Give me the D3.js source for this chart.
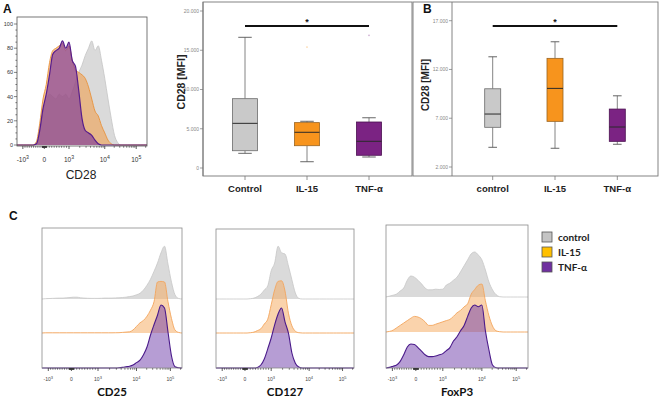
<!DOCTYPE html>
<html><head><meta charset="utf-8">
<script src="https://cdn.jsdelivr.net/npm/d3@7/dist/d3.min.js"></script>
<style>body{margin:0;background:#fff}svg{display:block}</style>
</head><body>
<svg id="fig" width="661" height="402"></svg>
<script>
// ---------------- DATA ----------------
// Box plots, panel A (CD28 MFI)
const boxA_categories = ["Control", "IL-15", "TNF-α"];
const boxA_low    = [1870, 800, 1400];
const boxA_q1     = [2200, 2840, 1620];
const boxA_median = [5690, 4550, 3400];
const boxA_q3     = [8830, 5780, 5860];
const boxA_high   = [16650, 5950, 6400];
const boxA_outlier = [null, 15400, 16900];
const boxA_ticks  = [0, 5000, 10000, 15000, 20000];

// Box plots, panel B
const boxB_categories = ["control", "IL-15", "TNF-α"];
const boxB_low    = [4020, 3920, 4330];
const boxB_q1     = [6070, 6680, 4630];
const boxB_median = [7430, 10060, 6100];
const boxB_q3     = [10020, 13140, 7940];
const boxB_high   = [13300, 14840, 9300];
const boxB_ticks  = [2000, 7000, 12000, 17000];

// Flow histograms: values on a display-channel grid (0..1, 41 bins)
const histChannels = d3.range(41).map(i => i * 0.025);
const histTickChannels = [0.045, 0.21, 0.40, 0.675, 0.917];
const histTickBase = ["-10", "0", "10", "10", "10"];
const histTickExp  = ["3", "", "3", "4", "5"];
const histA_yTicks = [0, 20, 40, 60, 80, 100];

// Panel A histogram (CD28, % of max)
const cd28_control = [0,0,0,0,0,0,2,15,28,36,42,40,38,42,40,42,38,44,52,60,66,74,80,86,78,82,70,55,38,22,8,2,0,0,0,0,0,0,0,0,0];
const cd28_il15    = [0,0,0,0,0,0,3,18,38,50,68,78,80,82,84,78,82,70,62,60,58,55,48,38,28,24,16,10,4,1,0,0,0,0,0,0,0,0,0,0,0];
const cd28_tnf     = [0,0,0,0,0,0,1,12,30,42,58,75,78,80,86,80,85,70,65,45,22,12,10,8,4,1,0,0,0,0,0,0,0,0,0,0,0,0,0,0,0];

// Panel C histograms
const cd25_control = [0,0.5,0.8,1,1.3,1.5,1.5,2,2.5,3,3,2,1.5,1.2,1,1,1,1.2,1.5,1.5,1.5,1.8,2,2.5,3,4,5,7,9.5,15,23,33,46,60,77,88,58,28,7,1,0];
const cd25_il15    = [0,0.3,0.3,0.3,0.3,0.3,0.3,0.3,0.3,0.3,0.3,0.3,0.3,0.3,0.3,0.3,0.3,0.3,0.3,0.3,0.3,0.4,0.5,1,1.5,2,5,11,17,21,28,38,52,85,86,85,52,24,5,1,0];
const cd25_tnf     = [0,0,0,0,0,0,0,0,0,0,0,0,0,0,0,0,0,0,0,0,0,0,0.3,1,2,3,5,9,13,22,35,55,72,88,105,100,60,20,2,0.3,0];

const cd127_control = [0,0,0,0,0,0,0,0,0,0,0.5,1.5,4,8,15,22,47,60,88,77,75,55,32,10,1,0,0,0,0,0,0,0,0,0,0,0,0,0,0,0,0];
const cd127_il15    = [0,0,0,0,0,0,0,0,0,0,0.5,1.5,4,7,15,23,47,72,86,87,70,33,12,3,0.5,0,0,0,0,0,0,0,0,0,0,0,0,0,0,0,0];
const cd127_tnf     = [0,0,0,0,0,0,0,0,0,0,0,0,1,5,15,32,50,72,90,100,77,58,25,8,1.5,0,0,0,0,0,0,0,0,0,0,0,0,0,0,0,0];

const foxp3_control = [0,1.5,3,5,10,15,28,35,33,28,22,15,12,12,13,12.5,13,20,23,28,33,42,52,62,72,75,70,62,45,25,12,4,0.5,0,0,0,0,0,0,0,0];
const foxp3_il15    = [0,1,3,7,11,15,19,23,26,25,22,17,11,11,13,15,17,19,21,26,32,36,42,47,63,71,78,80,52,27,10,2,0.5,0,0,0,0,0,0,0,0];
const foxp3_tnf     = [0,1,3,5,11,22,35,40,39,34,28,22,19,19,20,22,24,29,34,45,52,62,71,86,100,105,102,105,62,30,5,0.5,0,0,0,0,0,0,0,0,0];

const legendLabels = ["control", "IL-15", "TNF-α"];
const legendColors = ["#c4c4c4", "#ffc000", "#7030a0"];

// ---------------- DRAW ----------------
const svg = d3.select("#fig");
const SANS = "'Liberation Sans', Arial, sans-serif";
const CAL = "Lato, 'Open Sans', sans-serif";

[["A",3,13],["B",423,13],["C",9,220]].forEach(([t,x,y]) =>
  svg.append("text").attr("x",x).attr("y",y).attr("font-family",SANS)
     .attr("font-weight","bold").attr("font-size",12).attr("fill","#111").text(t));

const T = histTickChannels;
function chan(v){
  if (v >= 1000){ const k = Math.log10(v); return k <= 4 ? T[2]+(T[3]-T[2])*(k-3) : T[3]+(T[4]-T[3])*(k-4); }
  if (v >= 0) return T[1] + (T[2]-T[1]) * v/1000;
  return T[1] + (T[1]-T[0]) * v/1000;
}
const minorVals = [...d3.range(-900,0,100), ...d3.range(-90,0,10), ...d3.range(10,100,10),
                   ...d3.range(100,1000,100), ...d3.range(2000,10000,1000), ...d3.range(20000,100000,10000), 200000];

function histXAxis(g, x, yb, labelY, fs, col){
  g.selectAll("line.mi").data(minorVals).join("line")
    .attr("x1", d=>x(chan(d))).attr("x2", d=>x(chan(d))).attr("y1", yb).attr("y2", yb+1.8)
    .attr("stroke", "#333").attr("stroke-width", 0.6);
  g.selectAll("line.ma").data(histTickChannels).join("line")
    .attr("x1", d=>x(d)).attr("x2", d=>x(d)).attr("y1", yb).attr("y2", yb+3)
    .attr("stroke", "#333").attr("stroke-width", 0.8);
  g.selectAll("text.tk").data(histTickChannels).join("text")
    .attr("x", d=>x(d)).attr("y", labelY).attr("text-anchor","middle")
    .attr("font-family", SANS).attr("font-size", fs).attr("fill", col)
    .each(function(d,i){
      const t = d3.select(this);
      t.append("tspan").text(histTickBase[i]);
      if (histTickExp[i]) t.append("tspan").attr("dy", -fs*0.45).attr("font-size", fs*0.8).text(histTickExp[i]);
    });
}

// ---- Panel A histogram ----
(function(){
  const g = svg.append("g");
  const x0=17, x1=147, yTop=17, yBot=146;
  const x = d3.scaleLinear().domain([0,1]).range([x0,x1]);
  const y = d3.scaleLinear().domain([0,100]).range([145,24]);
  const series = [
    {v: cd28_control, fill:"rgba(205,205,205,0.75)", stroke:"#c4c4c4", sw:0.8},
    {v: cd28_il15,    fill:"rgba(240,160,80,0.6)",   stroke:"#e8913a", sw:0.9},
    {v: cd28_tnf,     fill:"rgba(120,50,155,0.62)",  stroke:"#561c8c", sw:1.2}
  ];
  series.forEach(s => {
    g.append("path").datum(s.v)
      .attr("d", d3.area().x((d,i)=>x(histChannels[i])).y0(y(0)).y1(d=>y(d)).curve(d3.curveMonotoneX))
      .attr("fill", s.fill);
    g.append("path").datum(s.v)
      .attr("d", d3.line().x((d,i)=>x(histChannels[i])).y(d=>y(d)).curve(d3.curveMonotoneX))
      .attr("fill","none").attr("stroke", s.stroke).attr("stroke-width", s.sw);
  });
  g.append("rect").attr("x",x0).attr("y",yTop).attr("width",x1-x0).attr("height",yBot-yTop)
    .attr("fill","none").attr("stroke","#555").attr("stroke-width",0.8);
  g.selectAll("line.ym").data(d3.range(0,101,5)).join("line")
    .attr("x1",x0).attr("x2", d=> d%20===0 ? x0-3 : x0-1.6).attr("y1",d=>y(d)).attr("y2",d=>y(d))
    .attr("stroke","#333").attr("stroke-width",0.6);
  g.selectAll("text.yl").data(histA_yTicks).join("text")
    .attr("x", x0-4).attr("y", d=>y(d)+2).attr("text-anchor","end")
    .attr("font-family",SANS).attr("font-size",5.5).attr("fill","#333").text(d=>d);
  histXAxis(g, x, yBot, 162, 6.5, "#333");
  g.append("text").attr("x",81).attr("y",179).attr("text-anchor","middle")
    .attr("font-family",SANS).attr("font-size",12).attr("fill","#222").text("CD28");
})();

// ---- Box plots ----
const fmt = d3.formatLocale({decimal:",", thousands:".", grouping:[3], currency:["",""]}).format(",");
const boxFill   = ["#c9c9c9", "#f7941d", "#7b2383"];
const boxStroke = ["#6b6b6b", "#9a6420", "#4a1050"];

function drawBoxes(cfg){
  const g = svg.append("g");
  const x = d3.scalePoint().domain(cfg.cats).range(cfg.xr);
  const y = d3.scaleLinear().domain(cfg.yd).range(cfg.yr);
  const w = cfg.bw;
  g.append("rect").attr("x",cfg.frame[0]).attr("y",cfg.frame[1])
    .attr("width",cfg.frame[2]-cfg.frame[0]).attr("height",cfg.frame[3]-cfg.frame[1])
    .attr("fill","none").attr("stroke","#777").attr("stroke-width",0.9);
  g.append("line").attr("x1",cfg.axisX).attr("x2",cfg.axisX).attr("y1",cfg.frame[1]).attr("y2",cfg.frame[3])
    .attr("stroke","#777").attr("stroke-width",0.9);
  g.selectAll("line.yt").data(cfg.ticks).join("line")
    .attr("x1",cfg.axisX-3).attr("x2",cfg.axisX).attr("y1",d=>y(d)).attr("y2",d=>y(d))
    .attr("stroke","#777").attr("stroke-width",0.7);
  g.selectAll("text.yt").data(cfg.ticks).join("text")
    .attr("x",cfg.axisX-4).attr("y",d=>y(d)+1.8).attr("text-anchor","end")
    .attr("font-family",SANS).attr("font-size",5).attr("fill","#888").text(d=>fmt(d));
  g.selectAll("line.xt").data(cfg.cats).join("line")
    .attr("x1",d=>x(d)).attr("x2",d=>x(d)).attr("y1",cfg.frame[3]).attr("y2",cfg.frame[3]+4)
    .attr("stroke","#777").attr("stroke-width",0.8);
  g.selectAll("text.xl").data(cfg.cats).join("text")
    .attr("x",d=>x(d)).attr("y",cfg.frame[3]+16).attr("text-anchor","middle")
    .attr("font-family",SANS).attr("font-weight","bold").attr("font-size",9.5).attr("fill","#222").text(d=>d);
  g.append("text").attr("transform",`translate(${cfg.ylabX},${cfg.ylabY}) rotate(-90)`)
    .attr("text-anchor","middle").attr("font-family",SANS).attr("font-weight","bold")
    .attr("font-size",cfg.ylabSize).attr("fill","#222").text("CD28 [MFI]");
  cfg.cats.forEach((c,i) => {
    const cx = x(c);
    g.append("line").attr("x1",cx).attr("x2",cx).attr("y1",y(cfg.high[i])).attr("y2",y(cfg.q3[i]))
      .attr("stroke","#777").attr("stroke-width",0.9);
    g.append("line").attr("x1",cx).attr("x2",cx).attr("y1",y(cfg.q1[i])).attr("y2",y(cfg.low[i]))
      .attr("stroke","#777").attr("stroke-width",0.9);
    [cfg.high[i], cfg.low[i]].forEach(v =>
      g.append("line").attr("x1",cx-w*0.27).attr("x2",cx+w*0.27).attr("y1",y(v)).attr("y2",y(v))
        .attr("stroke","#555").attr("stroke-width",0.9));
    g.append("rect").attr("x",cx-w/2).attr("y",y(cfg.q3[i])).attr("width",w)
      .attr("height",y(cfg.q1[i])-y(cfg.q3[i])).attr("fill",boxFill[i]).attr("stroke",boxStroke[i]).attr("stroke-width",0.8);
    g.append("line").attr("x1",cx-w/2).attr("x2",cx+w/2).attr("y1",y(cfg.median[i])).attr("y2",y(cfg.median[i]))
      .attr("stroke","#2a2a2a").attr("stroke-width",1);
    if (cfg.outlier && cfg.outlier[i] != null)
      g.append("circle").attr("cx",cx).attr("cy",y(cfg.outlier[i])).attr("r",0.9)
        .attr("fill",boxFill[i]).attr("opacity",0.35);
  });
  const c0 = x(cfg.cats[0]), c2 = x(cfg.cats[2]);
  g.append("line").attr("x1",c0).attr("x2",c2).attr("y1",26).attr("y2",26).attr("stroke","#111").attr("stroke-width",1.8);
  g.append("text").attr("x",(c0+c2)/2).attr("y",24.5).attr("text-anchor","middle")
    .attr("font-family",SANS).attr("font-weight","bold").attr("font-size",9).attr("fill","#111").text("*");
}

drawBoxes({cats: boxA_categories, xr:[245,369], yd:[0,20000], yr:[168,11], bw:25,
  frame:[203,2,412,176], axisX:203, ticks: boxA_ticks, ylabX:185, ylabY:82, ylabSize:10.5,
  low:boxA_low, q1:boxA_q1, median:boxA_median, q3:boxA_q3, high:boxA_high, outlier:boxA_outlier});
drawBoxes({cats: boxB_categories, xr:[492.7,617.3], yd:[2000,17000], yr:[167,20.7], bw:16,
  frame:[413,2,658,176], axisX:452, ticks: boxB_ticks, ylabX:429, ylabY:85, ylabSize:10,
  low:boxB_low, q1:boxB_q1, median:boxB_median, q3:boxB_q3, high:boxB_high, outlier:null});

// ---- Panel C stacked histograms ----
const cStyles = [
  {fill:"rgba(214,214,214,0.9)", stroke:"#c6c6c6", sw:0.8},
  {fill:"rgba(246,168,90,0.5)",  stroke:"#f3a55c", sw:0.9},
  {fill:"rgba(110,60,170,0.5)",  stroke:"#4a1a8a", sw:1.1}
];
const cPanels = [
  {title:"CD25",  series:[cd25_control, cd25_il15, cd25_tnf],   frame:[42,228,182,368], bases:[299,333,368]},
  {title:"CD127", series:[cd127_control, cd127_il15, cd127_tnf], frame:[216,229,354,368], bases:[299,333,368]},
  {title:"FoxP3", series:[foxp3_control, foxp3_il15, foxp3_tnf], frame:[386,225,528,368], bases:[297,332,368]}
];
cPanels.forEach(p => {
  const g = svg.append("g");
  const [x0,yT,x1,yB] = p.frame;
  const x = d3.scaleLinear().domain([0,1]).range([x0,x1]);
  p.series.forEach((vals, k) => {
    const base = p.bases[k];
    const y = d3.scaleLinear().domain([0,100]).range([base, base-60]);
    g.append("path").datum(vals)
      .attr("d", d3.area().x((d,i)=>x(histChannels[i])).y0(base).y1(d=>y(d)).curve(d3.curveMonotoneX))
      .attr("fill", cStyles[k].fill);
    g.append("path").datum(vals)
      .attr("d", d3.line().x((d,i)=>x(histChannels[i])).y(d=>y(d)).curve(d3.curveMonotoneX))
      .attr("fill","none").attr("stroke", cStyles[k].stroke).attr("stroke-width", cStyles[k].sw);
  });
  g.append("rect").attr("x",x0).attr("y",yT).attr("width",x1-x0).attr("height",yB-yT)
    .attr("fill","none").attr("stroke","#8a8a8a").attr("stroke-width",0.8);
  histXAxis(g, x, yB, 381, 5, "#444");
  g.append("text").attr("x",(x0+x1)/2).attr("y",396).attr("text-anchor","middle")
    .attr("font-family",CAL).attr("font-weight","bold").attr("font-size",11.5).attr("fill","#111").text(p.title);
});

// ---- Legend ----
const lg = svg.append("g");
legendLabels.forEach((l,i) => {
  lg.append("rect").attr("x",542).attr("y",232+i*15).attr("width",10).attr("height",10)
    .attr("fill",legendColors[i]).attr("stroke","#555").attr("stroke-width",0.8);
  lg.append("text").attr("x",558).attr("y",240.5+i*15).attr("font-family",CAL).attr("font-weight","bold")
    .attr("font-size",10).attr("fill","#222").text(l);
});
</script>
</body></html>
